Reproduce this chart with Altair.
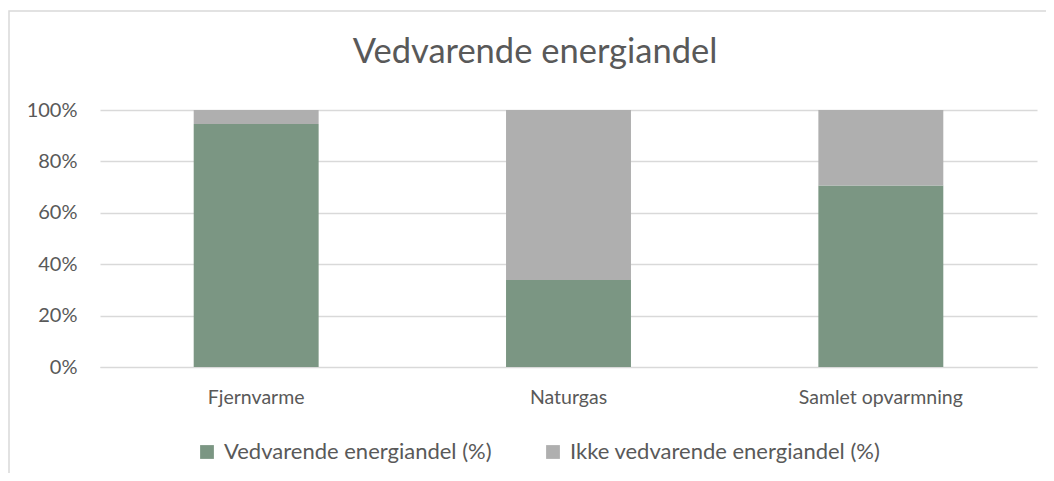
import altair as alt
import pandas as pd

categories = ["Fjernvarme", "Naturgas", "Samlet opvarmning"]
renewable = [94.6, 33.9, 70.6]
non_renewable = [5.4, 66.1, 29.4]
series_names = ["Vedvarende energiandel (%)", "Ikke vedvarende energiandel (%)"]
series_colors = ["#7B9683", "#AFAFAF"]
y_ticks = [0, 20, 40, 60, 80, 100]
chart_title = "Vedvarende energiandel"

rows = []
for c, r, n in zip(categories, renewable, non_renewable):
    rows.append({"cat": c, "serie": series_names[0], "val": r, "ord": 0})
    rows.append({"cat": c, "serie": series_names[1], "val": n, "ord": 1})
df = pd.DataFrame(rows)

FONT = "Lato"
TXT = "#595959"

bars = alt.Chart(df).mark_bar().encode(
    x=alt.X("cat:N", sort=categories,
            scale=alt.Scale(paddingInner=0.6, paddingOuter=0.3),
            axis=alt.Axis(title=None, labelAngle=0, ticks=False, domain=True,
                          domainColor="#D9D9D9", labelFontSize=19.5, labelColor=TXT,
                          labelFont=FONT, labelPadding=21, grid=False)),
    y=alt.Y("val:Q", stack="zero",
            scale=alt.Scale(domain=[0, 100], nice=False),
            axis=alt.Axis(title=None, values=y_ticks, labelExpr="datum.value + '%'",
                          ticks=False, domain=False, gridColor="#D9D9D9", gridWidth=1.3,
                          labelFontSize=20, labelColor=TXT, labelFont=FONT, labelPadding=23)),
    color=alt.Color("serie:N", sort=series_names,
                    scale=alt.Scale(domain=series_names, range=series_colors),
                    legend=alt.Legend(title=None, orient="none", direction="horizontal",
                                      legendX=96, legendY=331, symbolType="square",
                                      symbolSize=190, symbolStrokeWidth=0, labelLimit=0,
                                      labelFontSize=22, labelColor=TXT, labelFont=FONT,
                                      columnPadding=50, labelOffset=6)),
    order=alt.Order("ord:Q", sort="ascending"),
)

border = alt.Chart(pd.DataFrame({"a": [0]})).mark_rect(
    fill="transparent", stroke="#D9D9D9", strokeWidth=1.5
).encode(
    x=alt.value(-91), x2=alt.value(1000), y=alt.value(-99), y2=alt.value(500)
)

title = alt.Chart(pd.DataFrame({"t": [chart_title]})).mark_text(
    font=FONT, fontSize=34.5, color=TXT, align="center", baseline="alphabetic"
).encode(
    text="t:N", x=alt.value(435), y=alt.value(-47)
)

chart = alt.layer(border, bars, title).properties(
    width=937, height=257,
    autosize=alt.AutoSizeParams(type="none"),
    padding={"left": 92, "top": 102, "right": 9, "bottom": 106},
).configure_view(stroke=None)

chart.save("out.html", embed_options={"renderer": "svg", "actions": False})
